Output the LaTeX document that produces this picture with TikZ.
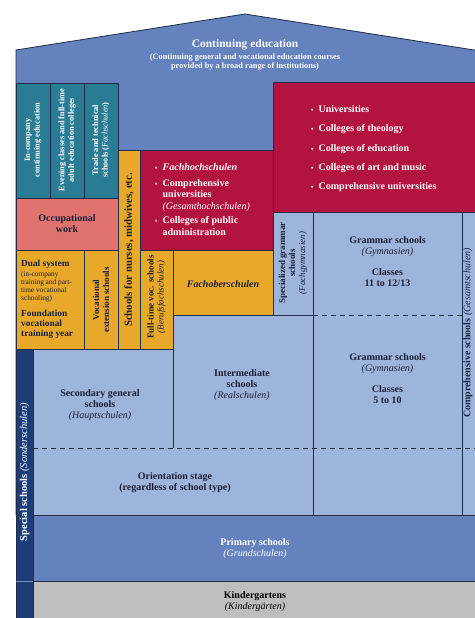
\documentclass[tikz,border=0pt]{standalone}
\usepackage{fontspec}
\setmainfont{Liberation Serif}
\usetikzlibrary{positioning}

\definecolor{roofblue}{HTML}{6482BD}
\definecolor{paleblue}{HTML}{9DB5DB}
\definecolor{tealbox}{HTML}{2A7C94}
\definecolor{crimson}{HTML}{B2133F}
\definecolor{salmon}{HTML}{E1736E}
\definecolor{amber}{HTML}{E8A82A}
\definecolor{navystrip}{HTML}{1C3D78}
\definecolor{kgray}{HTML}{BEBEBE}
\definecolor{edge}{HTML}{1F2D47}
\definecolor{ink}{HTML}{1B2038}

\newcommand{\germ}[1]{{\mdseries\itshape #1}}
\newcommand{\blt}{{\fontsize{7}{7}\selectfont\textbullet}\hspace{5pt}}

\begin{document}
\begin{tikzpicture}[
    x=1pt, y=-1pt,
    block/.style={draw=edge, line width=0.8pt},
    txt/.style={font=\fontsize{10}{11}\selectfont\bfseries, align=center, text=ink, inner sep=0pt},
    wtxt/.style={txt, text=white},
    vtxt/.style={txt, rotate=90},
    vwtxt/.style={wtxt, rotate=90},
    bullets/.style={wtxt, align=left, font=\fontsize{10}{11.5}\selectfont\bfseries}
]
    \useasboundingbox (0,0) rectangle (474,618);
    \fill[white] (0,0) rectangle (474,618);

    % ================= ROOF =================
    \filldraw[block, fill=roofblue] (16,515) -- (16,50) -- (245,14) -- (476,50.3) -- (476,515) -- cycle;
    \node[wtxt, font=\fontsize{11.5}{12}\selectfont\bfseries] (cont) at (245,45) {Continuing education};
    \node[wtxt, font=\fontsize{8.3}{9.5}\selectfont\bfseries, below=3pt of cont] (cont_sub)
        {(Continuing general and vocational education courses\\provided by a broad range of institutions)};

    % ================= FURTHER TRAINING =================
    \filldraw[block, fill=tealbox] (16,83) rectangle (50,198);
    \filldraw[block, fill=tealbox] (50,83) rectangle (84,198);
    \filldraw[block, fill=tealbox] (84,83) rectangle (118,198);
    \node[vwtxt, font=\fontsize{8.3}{9.5}\selectfont\bfseries] (inco) at (33,140) {In-company\\continuing education};
    \node[vwtxt, font=\fontsize{8.3}{9.5}\selectfont\bfseries] (evening) at (67,140) {Evening classes and full-time\\adult education colleges};
    \node[vwtxt, font=\fontsize{8.3}{9.5}\selectfont\bfseries] (trade) at (101,140) {Trade and technical\\schools (\germ{Fachschulen})};

    \filldraw[block, fill=salmon] (16,198) rectangle (118,250);
    \node[txt] (occ) at (67,224) {Occupational\\work};

    % ================= HIGHER EDUCATION =================
    \filldraw[block, fill=crimson] (273,82) rectangle (476,212);
    \node[bullets, font=\fontsize{10}{11.5}\selectfont\bfseries, anchor=north west] (uni_list) at (311,105.5)
        {\blt Universities\\[7.75pt]
         \blt Colleges of theology\\[7.75pt]
         \blt Colleges of education\\[7.75pt]
         \blt Colleges of art and music\\[7.75pt]
         \blt Comprehensive universities};

    \filldraw[block, fill=crimson] (140,150) rectangle (273,250);
    \node[bullets, anchor=north west] (fh_list) at (155,163.5)
        {\blt\textit{Fachhochschulen}\\[4pt]
         \blt Comprehensive\\
         \phantom{\blt}universities\\
         \phantom{\blt}\germ{(Gesamthochschulen)}\\[3pt]
         \blt Colleges of public\\
         \phantom{\blt}administration};

    % ================= VOCATIONAL =================
    \filldraw[block, fill=amber] (118,150) rectangle (140,349);
    \filldraw[block, fill=amber] (16,250) rectangle (84,349);
    \filldraw[block, fill=amber] (84,250) rectangle (118,349);
    \filldraw[block, fill=amber] (140,250) rectangle (173,349);
    \filldraw[block, fill=amber] (173,250) rectangle (273,315);

    \node[vtxt, font=\fontsize{10.8}{12}\selectfont\bfseries] (nurses) at (129,250) {Schools for nurses, midwives, etc.};
    \node[vtxt, font=\fontsize{9}{10}\selectfont\bfseries] (vocext) at (101,300) {Vocational\\extension schools};
    \node[vtxt, font=\fontsize{9}{10}\selectfont\bfseries] (fulltime) at (156.5,297) {Full-time voc. schools\\\germ{(Berufsfachschulen)}};
    \node[txt] (fos) at (223,284) {\textit{Fachoberschulen}};

    \node[txt, align=left, font=\fontsize{9.3}{10}\selectfont\bfseries, anchor=north west] (dual_head) at (21,260) {Dual system};
    \node[txt, align=left, font=\fontsize{7.3}{8}\selectfont, below=2.5pt of dual_head.south west, anchor=north west] (dual_note)
        {(in-company\\training and part-\\time vocational\\schooling)};
    \node[txt, align=left, font=\fontsize{9.3}{10}\selectfont\bfseries, anchor=north west] (dual_found) at (21,310) {Foundation\\vocational\\training year};

    % ================= GENERAL SCHOOLS =================
    \filldraw[block, fill=paleblue] (33,349) -- (173,349) -- (173,315) -- (273,315) -- (273,212)
        -- (476,212) -- (476,515) -- (33,515) -- cycle;
    \draw[block] (173,349) -- (173,448);
    \draw[block] (273,315) -- (313,315);
    \draw[block] (313,212) -- (313,515);
    \draw[block] (462,212) -- (462,515);
    \draw[block, dash pattern=on 5pt off 4pt] (313,315) -- (462,315);
    \draw[block, dash pattern=on 5pt off 4pt] (33,448) -- (476,448);

    \node[vtxt, font=\fontsize{9}{10}\selectfont\bfseries] (specgram) at (293,263) {Specialized grammar\\schools\\\germ{(Fachgymnasien)}};
    \node[txt] (gram_up) at (387.5,262) {Grammar schools\\\germ{(Gymnasien)}\\[10pt]Classes\\11 to 12/13};
    \node[txt] (gram_low) at (387.5,379) {Grammar schools\\\germ{(Gymnasien)}\\[10pt]Classes\\5 to 10};
    \node[vtxt] (compr) at (468,333) {Comprehensive schools \germ{(Gesamtschulen)}};
    \node[txt] (inter) at (242,385) {Intermediate\\schools\\\germ{(Realschulen)}};
    \node[txt] (secgen) at (100,405) {Secondary general\\schools\\\germ{(Hauptschulen)}};
    \node[txt] (orient) at (175,483) {Orientation stage\\(regardless of school type)};

    % ================= PRIMARY & PRE-SCHOOL =================
    \filldraw[block, fill=roofblue] (33,515) rectangle (476,581);
    \node[wtxt] (primary) at (255,549) {Primary schools\\\germ{(Grundschulen)}};
    \filldraw[block, fill=kgray] (33,581) rectangle (476,622);
    \node[txt, text=black] (kinder) at (255,602) {Kindergartens\\\germ{(Kindergärten)}};

    \filldraw[block, fill=navystrip] (16,349) rectangle (33,622);
    \draw[paleblue!70!navystrip, line width=0.5pt] (16.4,581) -- (32.6,581);
    \node[vwtxt, font=\fontsize{10.5}{11}\selectfont\bfseries] (special) at (24.5,472) {Special schools \germ{(Sonderschulen)}};

\end{tikzpicture}
\end{document}
